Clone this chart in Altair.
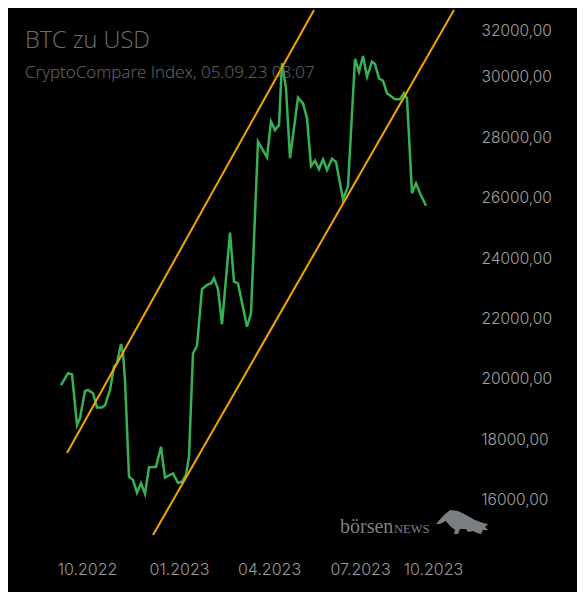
import altair as alt
import pandas as pd

# --- data ---
dates = [
    "2022-09-05", "2022-09-12", "2022-09-16", "2022-09-21", "2022-09-24", "2022-09-29",
    "2022-10-02", "2022-10-07", "2022-10-11", "2022-10-16", "2022-10-19", "2022-10-24",
    "2022-10-28", "2022-10-31", "2022-11-04", "2022-11-06", "2022-11-08", "2022-11-12",
    "2022-11-16", "2022-11-20", "2022-11-24", "2022-11-28", "2022-12-02", "2022-12-09",
    "2022-12-14", "2022-12-18", "2022-12-26", "2022-12-31", "2023-01-04", "2023-01-08",
    "2023-01-11", "2023-01-15", "2023-01-19", "2023-01-24", "2023-01-29", "2023-02-02",
    "2023-02-05", "2023-02-09", "2023-02-13", "2023-02-21", "2023-02-25", "2023-03-01",
    "2023-03-10", "2023-03-14", "2023-03-21", "2023-03-30", "2023-04-03", "2023-04-07",
    "2023-04-11", "2023-04-14", "2023-04-18", "2023-04-22", "2023-04-30", "2023-05-05",
    "2023-05-09", "2023-05-13", "2023-05-17", "2023-05-21", "2023-05-25", "2023-05-29",
    "2023-06-03", "2023-06-07", "2023-06-14", "2023-06-19", "2023-06-26", "2023-06-30",
    "2023-07-04", "2023-07-08", "2023-07-13", "2023-07-16", "2023-07-20", "2023-07-24",
    "2023-07-28", "2023-08-05", "2023-08-10", "2023-08-14", "2023-08-17", "2023-08-22",
    "2023-08-26", "2023-08-30", "2023-09-05",
]
prices = [
    19800, 20190, 20150, 18480, 18710, 19600,
    19640, 19530, 19060, 19060, 19130, 19640,
    20410, 20520, 21160, 20850, 19970, 16770,
    16660, 16240, 16550, 16200, 17080, 17100,
    17760, 16740, 16880, 16570, 16600, 16830,
    17430, 20850, 21100, 22970, 23110, 23160,
    23330, 22970, 21810, 24840, 23220, 23160,
    21730, 22170, 27850, 27330, 28510, 28230,
    28400, 30440, 29610, 27300, 29300, 29110,
    28620, 27040, 27220, 26940, 27260, 26910,
    27280, 27180, 25940, 26370, 30580, 30160,
    30680, 29990, 30490, 30410, 29940, 29860,
    29450, 29250, 29250, 29450, 29280, 26140,
    26470, 26140, 25730,
]

# trend channel (hand-drawn lines in the reference)
upper_dates = ["2022-09-11", "2023-05-16"]
upper_values = [17550, 32200]
lower_dates = ["2022-12-06", "2023-10-03"]
lower_values = [14840, 32200]

y_ticks = [16000, 18000, 20000, 22000, 24000, 26000, 28000, 30000, 32000]
x_ticks = ["2022-10-01", "2023-01-01", "2023-04-01", "2023-07-01", "2023-10-01"]

title_text = "BTC zu USD"
subtitle_text = "CryptoCompare Index, 05.09.23 08:07"

# --- tables ---
price_df = pd.DataFrame({"date": pd.to_datetime(dates), "price": prices})
channel_df = pd.DataFrame({
    "date": pd.to_datetime(upper_dates + lower_dates),
    "price": upper_values + lower_values,
    "line": ["upper", "upper", "lower", "lower"],
})
dummy = pd.DataFrame({"a": [0]})

x_dt = [alt.DateTime(year=int(s[:4]), month=int(s[5:7]), date=int(s[8:10])) for s in x_ticks]

x_scale = alt.Scale(domain=[alt.DateTime(year=2022, month=8, date=30),
                            alt.DateTime(year=2023, month=10, date=15)])
y_scale = alt.Scale(domain=[14710, 32200], nice=False, zero=False)

x_axis = alt.Axis(
    values=x_dt, format="%m.%Y", title=None, grid=False, domain=False, ticks=False,
    labelColor="#9a9a9a", labelFont="Inter", labelFontSize=16, labelFontWeight=300,
    labelPadding=22,
    labelOffset={"condition": {"test": "year(datum.value) == 2023 && month(datum.value) == 9",
                               "value": -19}, "value": 0},
)
y_axis = alt.Axis(
    orient="right", values=y_ticks, title=None, grid=False, domain=False, ticks=False,
    labelColor="#a0a0a0", labelFont="Inter", labelFontSize=15.5, labelFontWeight=300,
    labelPadding=15,
    labelExpr="replace(format(datum.value, '.2f'), '.', ',')",
    labelOffset={"condition": {"test": "datum.value == 32000", "value": 14}, "value": 0},
)

price_line = alt.Chart(price_df).mark_line(color="#35b354", strokeWidth=2.5).encode(
    x=alt.X("date:T", scale=x_scale, axis=x_axis),
    y=alt.Y("price:Q", scale=y_scale, axis=y_axis),
)

channel = alt.Chart(channel_df).mark_line(color="#f5a300", strokeWidth=2).encode(
    x=alt.X("date:T", scale=x_scale),
    y=alt.Y("price:Q", scale=y_scale),
    detail="line:N",
)

title = alt.Chart(dummy).mark_text(
    text=title_text, font="Open Sans", fontSize=23.5, fontWeight=300, color="#707070",
    align="left", baseline="alphabetic",
).encode(x=alt.value(-30), y=alt.value(38))

subtitle = alt.Chart(dummy).mark_text(
    text=subtitle_text, font="Open Sans", fontSize=17, fontWeight=300, color="#6e6e6e",
    align="left", baseline="alphabetic",
).encode(x=alt.value(-30), y=alt.value(68))

wm1 = alt.Chart(dummy).mark_text(
    text="börsen", font="Liberation Serif", fontSize=20, color="#7b7f83",
    align="left", baseline="alphabetic",
).encode(x=alt.value(285), y=alt.value(523))

wm2 = alt.Chart(dummy).mark_text(
    text="NEWS", font="Liberation Serif", fontSize=12.5, color="#7b7f83",
    align="left", baseline="alphabetic",
).encode(x=alt.value(339), y=alt.value(523))

bull_path = ("M-0.962,0.019 L-0.698,-0.283 L-0.434,-0.509 L-0.132,-0.472 L0.170,-0.321 "
             "L0.509,-0.132 L0.811,-0.019 L1,0.019 L0.887,0.132 L1,0.245 L0.811,0.245 "
             "L0.736,0.396 L0.585,0.358 L0.434,0.283 L0.245,0.321 L0.170,0.208 "
             "L-0.057,0.208 L-0.132,0.396 L-0.283,0.396 L-0.245,0.245 L-0.434,0.094 "
             "L-0.585,-0.094 L-0.811,0.019 Z")
bull = alt.Chart(dummy).mark_point(
    shape=bull_path, filled=True, fill="#7b7f83", stroke=None, opacity=1, size=2809,
).encode(x=alt.value(406.5), y=alt.value(513.5))

chart = alt.layer(price_line, channel, title, subtitle, wm1, wm2, bull).properties(
    width=411, height=529,
    autosize=alt.AutoSizeParams(type="none"),
    padding={"left": 47, "top": 2, "right": 111, "bottom": 53},
    background="#000000",
).configure_view(stroke=None)

chart.save("out.html", embed_options={"renderer": "svg", "actions": False})
